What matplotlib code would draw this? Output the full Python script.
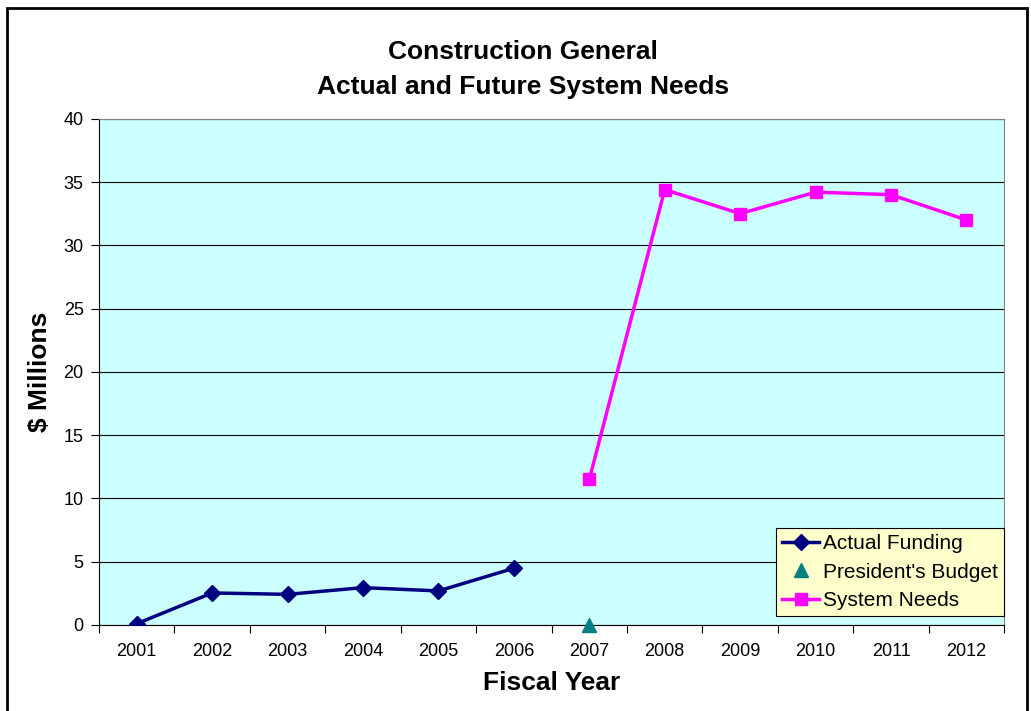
import matplotlib.pyplot as plt
from matplotlib.patches import Rectangle

plt.rcParams['font.family'] = ['Liberation Sans', 'DejaVu Sans']

years = ['2001', '2002', '2003', '2004', '2005', '2006',
         '2007', '2008', '2009', '2010', '2011', '2012']
actual_idx = [0, 1, 2, 3, 4, 5]
actual_funding = [0.1, 2.53, 2.42, 2.95, 2.69, 4.48]
budget_idx = [6]
presidents_budget = [0.0]
needs_idx = [6, 7, 8, 9, 10, 11]
system_needs = [11.5, 34.4, 32.5, 34.2, 34.0, 32.0]

fig = plt.figure(figsize=(10.31, 7.11), dpi=100)
ax = fig.add_axes([0.096, 0.121, 0.878, 0.712])
ax.set_facecolor('#CCFFFF')

# outer frame of the chart
fig.patches.append(Rectangle((0.007, -0.05), 0.989, 1.039, transform=fig.transFigure,
                             fill=False, edgecolor='black', linewidth=2))

ax.plot(actual_idx, actual_funding, color='#000080', linewidth=2.5, marker='D',
        markersize=8, label='Actual Funding', zorder=3)
ax.plot(budget_idx, presidents_budget, color='#008080', linestyle='none', marker='^',
        markersize=10, label="President's Budget", zorder=4, clip_on=False)
ax.plot(needs_idx, system_needs, color='#FF00FF', linewidth=2.5, marker='s',
        markersize=9, label='System Needs', zorder=3)

ax.set_xlim(-0.5, 11.5)
ax.set_ylim(0, 40)
ax.set_yticks(range(0, 45, 5))
ax.yaxis.grid(True, color='black', linewidth=0.8)
ax.set_axisbelow(True)

ax.set_xticks([i - 0.5 for i in range(13)])
ax.set_xticklabels([])
ax.set_xticks(range(12), minor=True)
ax.set_xticklabels(years, minor=True)
ax.tick_params(axis='x', which='minor', length=0, pad=13, labelsize=13)
ax.tick_params(axis='x', which='major', length=6, color='black')
ax.tick_params(axis='y', length=6, labelsize=13, pad=5)

for s in ax.spines.values():
    s.set_color('#808080')
ax.spines['left'].set_color('black')
ax.spines['bottom'].set_color('black')

ax.set_xlabel('Fiscal Year', fontsize=19, fontweight='bold', labelpad=8)
ax.set_ylabel('$ Millions', fontsize=19, fontweight='bold', labelpad=8)
fig.text(0.507, 0.902, 'Construction General\nActual and Future System Needs',
         ha='center', va='center', fontsize=19, fontweight='bold', linespacing=1.6)

leg = ax.legend(loc='lower right', bbox_to_anchor=(1.0, 0.018), fontsize=15,
                fancybox=False, framealpha=1, facecolor='#FFFFCC', edgecolor='black',
                borderpad=0.28, labelspacing=0.45, handlelength=1.8, handletextpad=0.2,
                borderaxespad=0)
leg.get_frame().set_linewidth(0.8)

fig.savefig('out.png', dpi=100)
